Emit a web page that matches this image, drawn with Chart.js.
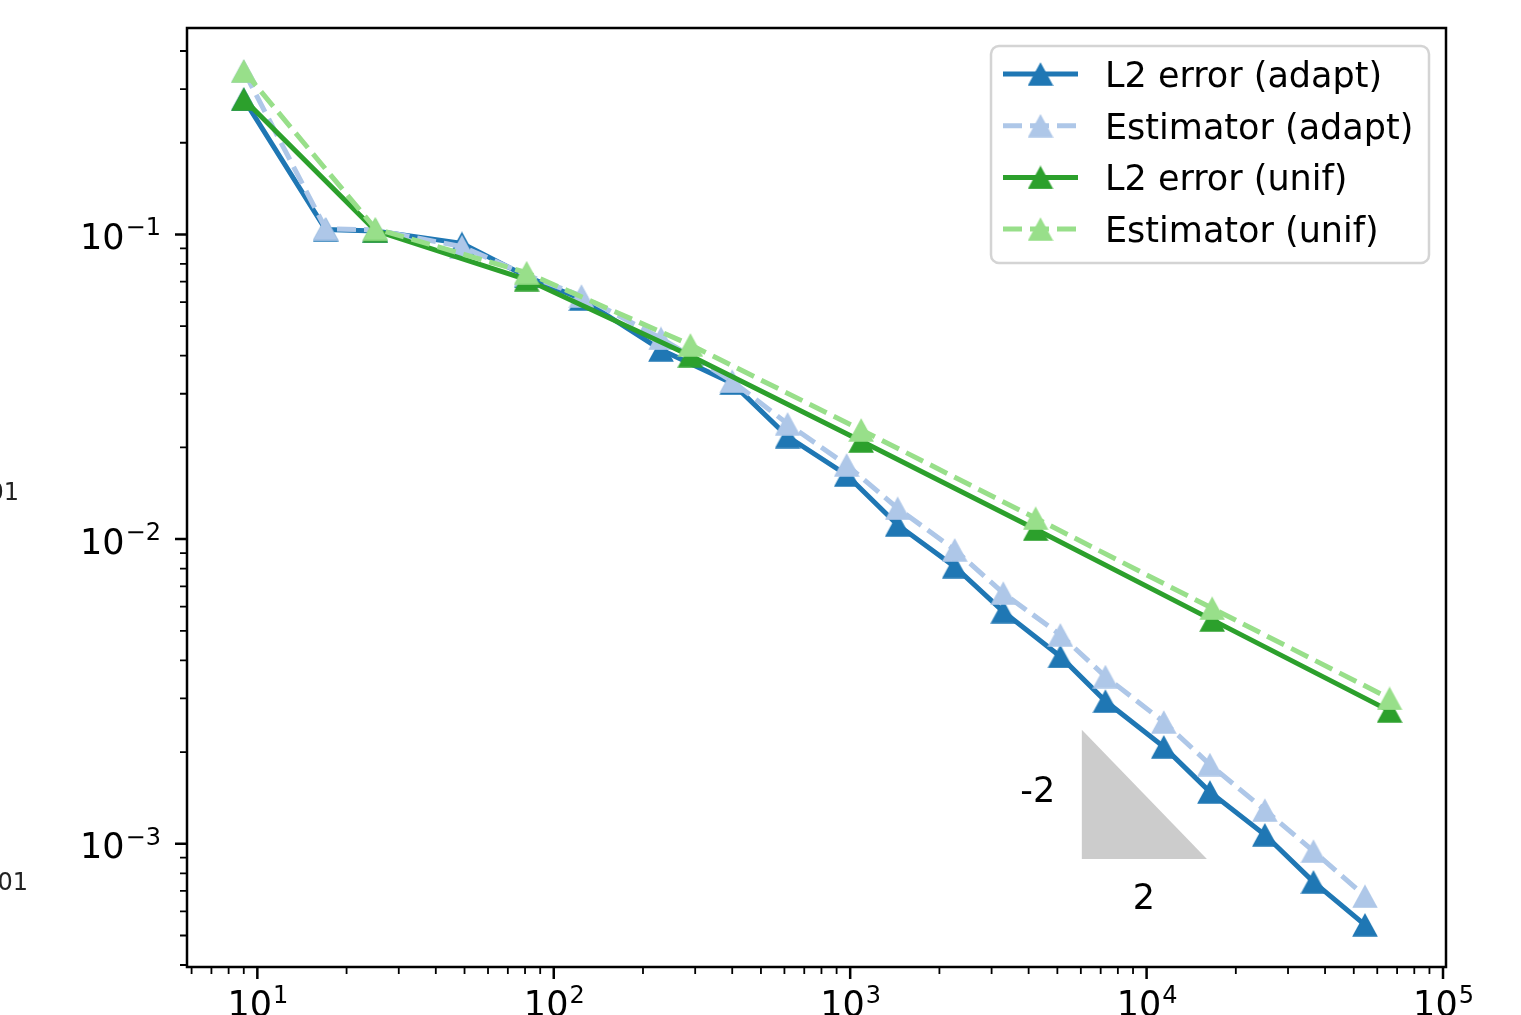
<!DOCTYPE html>
<html>
<head>
<meta charset="utf-8">
<script src="https://cdn.jsdelivr.net/npm/chart.js@4.4.0/dist/chart.umd.min.js"></script>
<style>
html, body { margin: 0; padding: 0; background: #fff; }
#chart { display: block; }
</style>
</head>
<body>
<canvas id="chart" width="1521" height="1015"></canvas>
<script>
// number of dofs and errors
const dofsAdapt = [9, 17, 25, 49, 81, 124, 230, 400, 615, 973, 1446, 2253, 3285, 5117, 7261, 11430, 16350, 25060, 36560, 54530];
const errAdapt = [0.278, 0.1038, 0.1027, 0.0935, 0.0728, 0.0614, 0.0418, 0.0325, 0.0217, 0.01624, 0.01113, 0.00812, 0.00578, 0.00412, 0.00294, 0.00208, 0.00148, 0.00107, 0.00075, 0.000542];
const estAdapt = [0.344, 0.1045, 0.1035, 0.0912, 0.0736, 0.0628, 0.0456, 0.0330, 0.0239, 0.01752, 0.01263, 0.00922, 0.00665, 0.00485, 0.00354, 0.00251, 0.00182, 0.00129, 0.000946, 0.000673];
const dofsUnif = [9, 25, 81, 289, 1089, 4225, 16641, 66049];
const errUnif = [0.278, 0.103, 0.0711, 0.0400, 0.0210, 0.01078, 0.00543, 0.00273];
const estUnif = [0.344, 0.1045, 0.0749, 0.0434, 0.02283, 0.01171, 0.00593, 0.00300];

const seriesNames = ['L2 error (adapt)', 'Estimator (adapt)', 'L2 error (unif)', 'Estimator (unif)'];
const seriesColors = ['#1f77b4', '#aec7e8', '#2ca02c', '#98df8a'];
const seriesDashed = [false, true, false, true];

// slope triangle corners (x left/right, y top/bottom) and its labels
const slopeX = [6046, 15975];
const slopeY = [0.002365, 0.000892];
const slopeLabels = [{ text: '-2', x: 4295, y: 0.00147 }, { text: '2', x: 9790, y: 0.000655 }];

const xExp = [1, 2, 3, 4, 5];
const yExp = [-1, -2, -3];

const FONT = '"DejaVu Sans", sans-serif';

function triangleMarker(color) {
    const c = document.createElement('canvas');
    c.width = 26; c.height = 24;
    const g = c.getContext('2d');
    g.fillStyle = color;
    g.beginPath();
    g.moveTo(13, 0.3);
    g.lineTo(25.8, 23.7);
    g.lineTo(0.2, 23.7);
    g.closePath();
    g.fill();
    return c;
}
const markers = seriesColors.map(triangleMarker);

function toPoints(xs, ys) {
    return xs.map((x, i) => ({ x: x, y: ys[i] }));
}

const allData = [
    toPoints(dofsAdapt, errAdapt),
    toPoints(dofsAdapt, estAdapt),
    toPoints(dofsUnif, errUnif),
    toPoints(dofsUnif, estUnif)
];

function drawPower(ctx, base, sup, x, y, align) {
    ctx.font = '35px ' + FONT;
    const w1 = ctx.measureText(base).width;
    ctx.font = '24px ' + FONT;
    const w2 = ctx.measureText(sup).width;
    let left = x;
    if (align === 'center') left = x - (w1 + w2) / 2;
    if (align === 'right') left = x - (w1 + w2);
    ctx.textAlign = 'left';
    ctx.textBaseline = 'alphabetic';
    ctx.font = '35px ' + FONT;
    ctx.fillText(base, left, y);
    ctx.font = '24px ' + FONT;
    ctx.fillText(sup, left + w1 + 1, y - 13.5);
}

function supText(e) {
    return e < 0 ? '\u2212' + (-e) : String(e);
}

const decorations = {
    id: 'decorations',
    beforeDatasetsDraw(chart) {
        const ctx = chart.ctx;
        const xs = chart.scales.x, ys = chart.scales.y;
        ctx.save();
        ctx.fillStyle = '#cccccc';
        ctx.beginPath();
        ctx.moveTo(xs.getPixelForValue(slopeX[0]), ys.getPixelForValue(slopeY[0]));
        ctx.lineTo(xs.getPixelForValue(slopeX[0]), ys.getPixelForValue(slopeY[1]));
        ctx.lineTo(xs.getPixelForValue(slopeX[1]), ys.getPixelForValue(slopeY[1]));
        ctx.closePath();
        ctx.fill();
        ctx.fillStyle = '#000';
        ctx.font = '35px ' + FONT;
        ctx.textAlign = 'center';
        ctx.textBaseline = 'middle';
        slopeLabels.forEach(l => {
            ctx.fillText(l.text, xs.getPixelForValue(l.x), ys.getPixelForValue(l.y));
        });
        ctx.restore();
    },
    afterDraw(chart) {
        const ctx = chart.ctx;
        const a = chart.chartArea;
        const xs = chart.scales.x, ys = chart.scales.y;
        ctx.save();

        // axes frame
        ctx.strokeStyle = '#000';
        ctx.lineWidth = 2.5;
        ctx.strokeRect(a.left, a.top, a.right - a.left, a.bottom - a.top);

        // ticks
        ctx.lineWidth = 2.5;
        ctx.beginPath();
        xExp.forEach(e => {
            const px = xs.getPixelForValue(Math.pow(10, e));
            ctx.moveTo(px, a.bottom); ctx.lineTo(px, a.bottom + 12);
        });
        yExp.forEach(e => {
            const py = ys.getPixelForValue(Math.pow(10, e));
            ctx.moveTo(a.left, py); ctx.lineTo(a.left - 12, py);
        });
        ctx.stroke();
        ctx.lineWidth = 1.8;
        ctx.beginPath();
        for (let e = 0; e <= 5; e++) {
            for (let m = 2; m <= 9; m++) {
                const v = m * Math.pow(10, e);
                if (v < xs.min || v > xs.max) continue;
                const px = xs.getPixelForValue(v);
                ctx.moveTo(px, a.bottom); ctx.lineTo(px, a.bottom + 7);
            }
        }
        for (let e = -4; e <= 0; e++) {
            for (let m = 2; m <= 9; m++) {
                const v = m * Math.pow(10, e);
                if (v < ys.min || v > ys.max) continue;
                const py = ys.getPixelForValue(v);
                ctx.moveTo(a.left, py); ctx.lineTo(a.left - 7, py);
            }
        }
        ctx.stroke();

        // tick labels
        ctx.fillStyle = '#000';
        xExp.forEach(e => {
            drawPower(ctx, '10', supText(e), xs.getPixelForValue(Math.pow(10, e)), a.bottom + 49, 'center');
        });
        yExp.forEach(e => {
            drawPower(ctx, '10', supText(e), a.left - 27, ys.getPixelForValue(Math.pow(10, e)) + 14.5, 'right');
        });

        // clipped leftovers at the left edge
        ctx.fillStyle = '#222';
        ctx.font = '24px ' + FONT;
        ctx.textAlign = 'right';
        ctx.fillText('01', 19, 500);
        ctx.fillText('01', 28, 890);

        // legend
        const lx = 991, ly = 46, lw = 438, lh = 217;
        ctx.fillStyle = 'rgba(255,255,255,0.8)';
        ctx.strokeStyle = '#d4d4d4';
        ctx.lineWidth = 2.5;
        ctx.beginPath();
        ctx.roundRect(lx, ly, lw, lh, 8);
        ctx.fill();
        ctx.stroke();
        seriesNames.forEach((name, i) => {
            const y = 74 + i * 51.7;
            ctx.strokeStyle = seriesColors[i];
            ctx.lineWidth = 5;
            ctx.setLineDash(seriesDashed[i] ? [19, 8] : []);
            ctx.beginPath();
            ctx.moveTo(1003, y); ctx.lineTo(1078, y);
            ctx.stroke();
            ctx.setLineDash([]);
            ctx.drawImage(markers[i], 1040.5 - 13, y - 12);
            ctx.fillStyle = '#000';
            ctx.font = '35px ' + FONT;
            ctx.textAlign = 'left';
            ctx.textBaseline = 'alphabetic';
            ctx.fillText(name, 1105, y + 13);
        });
        ctx.restore();
    }
};

new Chart(document.getElementById('chart').getContext('2d'), {
    type: 'line',
    data: {
        datasets: allData.map((pts, i) => ({
            label: seriesNames[i],
            data: pts,
            borderColor: seriesColors[i],
            backgroundColor: seriesColors[i],
            borderWidth: 5,
            borderDash: seriesDashed[i] ? [19, 8] : [],
            pointStyle: markers[i],
            pointRadius: 12,
            pointHoverRadius: 12,
            tension: 0,
            fill: false,
            order: 4 - i
        }))
    },
    options: {
        responsive: false,
        animation: false,
        events: [],
        layout: { padding: { left: 187, top: 28, right: 75, bottom: 48 } },
        plugins: { legend: { display: false }, tooltip: { enabled: false } },
        scales: {
            x: { type: 'logarithmic', min: 5.79, max: 102350, display: false },
            y: { type: 'logarithmic', min: 0.000394, max: 0.476, display: false }
        }
    },
    plugins: [decorations]
});
</script>
</body>
</html>
